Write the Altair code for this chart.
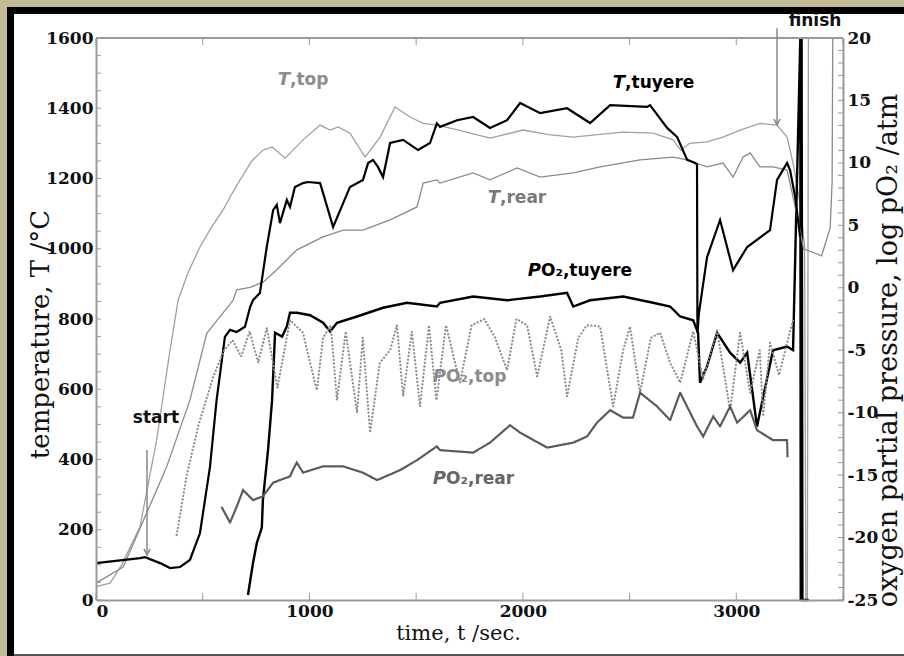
import altair as alt
import pandas as pd

# ---------------- data ----------------
t_top_time = [0, 66, 120, 206, 284, 347, 385, 430, 487, 540, 595, 640, 675, 730, 783, 825, 886, 970, 1050, 1097,
              1134, 1190, 1261, 1331, 1401, 1471, 1533, 1597, 1700, 1846, 2001, 2120, 2236, 2350, 2470, 2610, 2704,
              2740, 2780, 2863, 2938, 3018, 3111, 3191, 3238, 3266, 3299, 3320, 3326, 3333, 3338]
t_top_val = [38, 48, 100, 208, 455, 712, 854, 930, 1005, 1060, 1110, 1160, 1196, 1250, 1281, 1290, 1258, 1310, 1352, 1338,
             1347, 1329, 1261, 1318, 1404, 1375, 1357, 1352, 1338, 1315, 1338, 1325, 1318, 1325, 1332, 1329, 1310,
             1280, 1300, 1304, 1318, 1338, 1357, 1352, 1318, 1244, 1130, 1005, 0, 0, 1600]

t_tuy_time = [0, 206, 230, 300, 347, 394, 440, 487, 534, 565, 604, 628, 659, 698, 722, 736, 768, 800, 830, 847, 862,
              894, 909, 932, 970, 993, 1050, 1111, 1190, 1251, 1275, 1298, 1321, 1345, 1378, 1439, 1509, 1565, 1597,
              1612, 1692, 1767, 1846, 1926, 1987, 2081, 2207, 2315, 2409, 2582, 2596, 2676, 2723, 2770, 2807, 2816,
              2818, 2825, 2863, 2924, 2985, 3051, 3158, 3191, 3238, 3252, 3276, 3299]
t_tuy_val = [105, 119, 122, 105, 91, 94, 114, 190, 379, 569, 749, 769, 763, 778, 834, 854, 874, 1005, 1110, 1125, 1073,
             1139, 1119, 1176, 1187, 1190, 1187, 1062, 1176, 1196, 1244, 1253, 1233, 1204, 1301, 1310, 1281, 1301, 1357,
             1347, 1366, 1375, 1344, 1366, 1415, 1386, 1400, 1358, 1409, 1404, 1409, 1344, 1318, 1253, 1244, 1240,
             760, 817, 976, 1082, 939, 1005, 1053, 1196, 1244, 1224, 1147, 1034]

t_rear_time = [0, 127, 237, 331, 440, 519, 643, 659, 722, 783, 847, 941, 1064, 1158, 1251, 1378, 1504, 1533, 1597,
               1612, 1767, 1846, 1973, 2081, 2236, 2362, 2549, 2704, 2770, 2863, 2938, 2985, 3032, 3065, 3111, 3172,
               3238, 3266, 3299, 3315, 3400, 3440, 3449, 3452]
t_rear_val = [48, 94, 247, 379, 569, 759, 854, 883, 890, 905, 940, 997, 1034, 1053, 1053, 1082, 1119, 1187, 1196,
              1187, 1216, 1196, 1230, 1204, 1216, 1233, 1253, 1261, 1253, 1233, 1244, 1204, 1261, 1273, 1233, 1233,
              1224, 1147, 1053, 1000, 980, 1060, 1190, 1600]

p_tuy_time = [712, 736, 754, 777, 782, 806, 825, 839, 872, 894, 909, 941, 1003, 1064, 1097, 1129, 1223, 1345, 1457,
              1597, 1612, 1767, 1926, 2081, 2207, 2236, 2315, 2470, 2610, 2690, 2737, 2798, 2821, 2830, 2863, 2910,
              2971, 3018, 3051, 3097, 3172, 3238, 3266, 3300, 3302, 3306, 3310, 3340]
p_tuy_val = [-24.6, -22, -20.4, -19.2, -17, -13, -9, -3.6, -3.9, -3.1, -2.0, -2.0, -2.2, -2.8, -3.5, -2.8, -2.3, -1.6,
             -1.2, -1.5, -1.2, -0.7, -1.0, -0.7, -0.4, -1.5, -1.0, -0.7, -1.2, -1.5, -2.3, -2.6, -3.6, -7.6, -6.3, -3.6,
             -5.2, -6.0, -5.2, -11.1, -5.0, -4.7, -5.0, 20, -25, 20, -25, -25]

p_top_time = [378, 425, 480, 550, 600, 640, 680, 720, 760, 800, 850, 909, 970, 1003, 1035, 1064, 1100, 1129, 1170,
              1223, 1250, 1284, 1330, 1378, 1410, 1439, 1480, 1518, 1560, 1595, 1640, 1705, 1760, 1820, 1870, 1926,
              1970, 2020, 2067, 2128, 2180, 2207, 2260, 2300, 2362, 2423, 2470, 2502, 2549, 2600, 2643, 2690, 2737,
              2798, 2845, 2910, 2971, 3018, 3065, 3110, 3126, 3158, 3200, 3238, 3266]
p_top_val = [-19.8, -15, -11, -7.1, -5, -4.2, -5.5, -3.5, -6, -3.2, -8, -2.6, -3.6, -6, -8.2, -4, -3, -9.0, -3.5,
             -10.0, -4, -11.6, -6, -5.0, -3, -8.7, -3.5, -9.5, -3, -9.0, -3, -7.6, -3, -2.5, -4, -6.6, -2.5, -3,
             -7.1, -2.3, -5, -8.7, -4, -3, -3.1, -9.5, -5, -3.1, -8.4, -4, -3.6, -6, -7.6, -3.5, -7.3, -3.4, -9.8,
             -3.6, -8.4, -5, -10.3, -4.4, -7, -4.4, -2.6]

p_rear_time = [590, 628, 660, 689, 736, 782, 830, 909, 925, 941, 970, 1064, 1158, 1250, 1317, 1425, 1504, 1597, 1612,
               1767, 1846, 1940, 1987, 2114, 2236, 2301, 2347, 2409, 2470, 2516, 2549, 2629, 2690, 2737, 2816, 2845,
               2892, 2924, 2971, 3004, 3065, 3097, 3172, 3238, 3240]
p_rear_val = [-17.6, -18.8, -17.5, -16.2, -17, -16.7, -15.6, -15.1, -14.5, -14.0, -14.8, -14.3, -14.3, -14.8, -15.4,
              -14.6, -13.8, -12.7, -13.0, -13.2, -12.4, -11.0, -11.6, -12.8, -12.4, -11.9, -10.8, -9.8, -10.4, -10.4,
              -8.4, -9.5, -10.6, -8.4, -11.1, -11.9, -10.3, -11.1, -9.5, -10.8, -9.8, -11.4, -12.2, -12.2, -13.5]

left_ticks = list(range(0, 1601, 50))
left_labels = list(range(0, 1601, 200))
right_ticks = list(range(-25, 21, 1))
right_labels = list(range(-25, 21, 5))
x_ticks = list(range(0, 3501, 500))
x_labels = [0, 1000, 2000, 3000]

# series labels: (italic part, rest, t, T, colour)
lab_italic = ["T", "T", "T", "P", "P", "P"]
lab_rest = [",top", ",tuyere", ",rear", "O\u2082,tuyere", "O\u2082,top", "O\u2082,rear"]
lab_t = [909, 2479, 1893, 2085, 1640, 1640]
lab_T = [1480, 1472, 1144, 937, 635, 344]
lab_col = ["#8c8c8c", "#000000", "#7a7a7a", "#000000", "#8c8c8c", "#666666"]

# ---------------- layout ----------------
W, H = 747, 562
GREY = "#9a9a9a"
SERIF = "DejaVu Serif"
SANS = "DejaVu Sans"

xs = alt.Scale(domain=[0, 3500], nice=False, zero=False)
ts = alt.Scale(domain=[0, 1600], nice=False, zero=False)
ps = alt.Scale(domain=[-25, 20], nice=False, zero=False)

one = pd.DataFrame({"a": [0]})


def rect(x1, x2, y1, y2, color):
    return alt.Chart(one).mark_rect(color=color).encode(
        x=alt.value(x1), x2=alt.value(x2), y=alt.value(y1), y2=alt.value(y2))


KHAKI = "#c3b994"
frame = [rect(-96, -89, -38, 618, KHAKI), rect(-96, 808, -38, -31, KHAKI),
         rect(-89, -82, -31, 618, "#000000"), rect(-89, 808, -31, -24, "#000000"),
         rect(-82, 808, 616, 618, "#555555")]

LAB = dict(labelFont=SERIF, labelFontSize=17, labelFontWeight="bold", labelColor="#111111",
           ticks=False, domainColor=GREY, domainWidth=2, grid=False, labelOverlap=False,
           labelExpr="toString(datum.value)", titleFont=SERIF, titleFontWeight="normal",
           titleColor="#111111", zindex=2)

xaxis = alt.Axis(values=x_labels, orient="bottom", labelPadding=3, title="time, t /sec.",
                 titleFontSize=21, titlePadding=3, titleX=362, **LAB)
taxis = alt.Axis(values=left_labels, orient="left", labelPadding=3, title="temperature, T /\u00b0C",
                 titleFontSize=26, titleAngle=270, titleBaseline="alphabetic", titleX=-48, titleY=296,
                 **LAB)
paxis = alt.Axis(values=right_labels, orient="right", labelPadding=4,
                 title="oxygen partial pressure, log pO\u2082 /atm", titleFontSize=27,
                 titleAngle=270, titleBaseline="alphabetic", titleX=53, titleY=312, **LAB)


def tline(times, vals, color, width, axes=False):
    df = pd.DataFrame({"t": times, "v": vals, "i": range(len(times))})
    return alt.Chart(df).mark_line(color=color, strokeWidth=width, clip=False).encode(
        x=alt.X("t:Q", scale=xs, axis=xaxis if axes else None),
        y=alt.Y("v:Q", scale=ts, axis=taxis if axes else None),
        order="i:Q")


def pline(times, vals, color, width, dash=None, axes=False):
    df = pd.DataFrame({"t": times, "v": vals, "i": range(len(times))})
    kw = dict(color=color, strokeWidth=width, clip=False)
    if dash:
        kw["strokeDash"] = dash
        kw["strokeCap"] = "round"
    return alt.Chart(df).mark_line(**kw).encode(
        x=alt.X("t:Q", scale=xs, axis=None),
        y=alt.Y("v:Q", scale=ps, axis=paxis if axes else None),
        order="i:Q")


# ticks drawn inward through the scales
ldf = pd.DataFrame({"v": left_ticks})
left_tk = alt.Chart(ldf).mark_rule(color=GREY, strokeWidth=1).encode(
    y=alt.Y("v:Q", scale=ts, axis=None), x=alt.value(0), x2=alt.value(5))
xdf = pd.DataFrame({"v": x_ticks})
bot_tk = alt.Chart(xdf).mark_rule(color=GREY, strokeWidth=1).encode(
    x=alt.X("v:Q", scale=xs, axis=None), y=alt.value(H), y2=alt.value(H - 7))
top_tk = alt.Chart(xdf).mark_rule(color=GREY, strokeWidth=1).encode(
    x=alt.X("v:Q", scale=xs, axis=None), y=alt.value(0), y2=alt.value(7))
top_border = alt.Chart(one).mark_rule(color=GREY, strokeWidth=2).encode(
    x=alt.value(0), x2=alt.value(W), y=alt.value(0))
rdf = pd.DataFrame({"v": right_ticks})
right_tk = alt.Chart(rdf).mark_rule(color=GREY, strokeWidth=1).encode(
    y=alt.Y("v:Q", scale=ps, axis=None), x=alt.value(W), x2=alt.value(W - 5))

# series labels
labdf = pd.DataFrame({"it": lab_italic, "rest": lab_rest, "t": lab_t, "T": lab_T, "c": lab_col})
lab_it = alt.Chart(labdf).mark_text(font=SANS, fontSize=18, fontWeight="bold", fontStyle="italic",
                                    align="right", baseline="middle").encode(
    x=alt.X("t:Q", scale=xs, axis=None), y=alt.Y("T:Q", scale=ts, axis=None),
    text="it:N", color=alt.Color("c:N", scale=None))
lab_rs = alt.Chart(labdf).mark_text(font=SANS, fontSize=17, fontWeight="bold",
                                    align="left", baseline="middle").encode(
    x=alt.X("t:Q", scale=xs, axis=None), y=alt.Y("T:Q", scale=ts, axis=None),
    text="rest:N", color=alt.Color("c:N", scale=None))

# start / finish annotations
ann_text = ["start", "finish"]
ann_t = [281, 3369]
ann_T = [518, 1648]
adf = pd.DataFrame({"s": ann_text, "t": ann_t, "T": ann_T})
ann = alt.Chart(adf).mark_text(font=SANS, fontSize=17, fontWeight="bold", color="#111111",
                               baseline="middle", clip=False).encode(
    x=alt.X("t:Q", scale=xs, axis=None), y=alt.Y("T:Q", scale=ts, axis=None), text="s:N")

arrow_t = [239, 3191]
arrow_from = [427, 1628]
arrow_to = [128, 1352]
ardf = pd.DataFrame({"t": arrow_t, "a": arrow_from, "b": arrow_to})
shaft = alt.Chart(ardf).mark_rule(color="#888888", strokeWidth=1.5, clip=False).encode(
    x=alt.X("t:Q", scale=xs, axis=None), y=alt.Y("a:Q", scale=ts, axis=None), y2="b:Q")
head = alt.Chart(ardf).mark_point(shape="M-0.5,-1L0,0L0.5,-1", filled=False, size=150, color="#888888",
                                  strokeWidth=1.5, opacity=1, clip=False).encode(
    x=alt.X("t:Q", scale=xs, axis=None), y=alt.Y("b:Q", scale=ts, axis=None))

layers = [
    tline(t_top_time, t_top_val, "#a0a0a0", 1.3, axes=True),
    pline(p_tuy_time, p_tuy_val, "#000000", 2.4, axes=True),
    *frame,
    tline(t_rear_time, t_rear_val, "#8a8a8a", 1.3),
    tline(t_tuy_time, t_tuy_val, "#000000", 2.2),
    pline(p_top_time, p_top_val, "#8c8c8c", 2.2, dash=[0.1, 3.5]),
    pline(p_rear_time, p_rear_val, "#5a5a5a", 2.2, dash=[2, 1]),
    left_tk, right_tk, bot_tk, top_tk, top_border,
    lab_it, lab_rs, ann, shaft, head,
]

chart = alt.layer(*layers).resolve_scale(y="independent").resolve_axis(x="independent").properties(
    width=W, height=H,
    padding={"left": 96, "top": 38, "right": 61, "bottom": 56},
    autosize=alt.AutoSizeParams(type="none"),
    background="#ffffff",
).configure_view(stroke=None)

chart.save("out.html", embed_options={"renderer": "svg", "actions": False})
